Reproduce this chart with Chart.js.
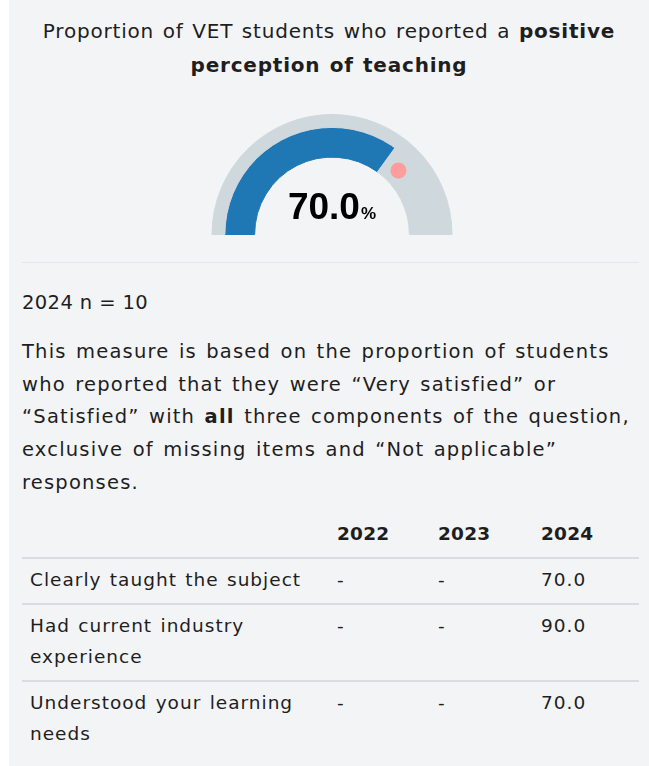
<!DOCTYPE html>
<html lang="en">
<head>
  <meta charset="UTF-8" />
  <title>Positive perception of teaching</title>
  <script src="https://cdn.jsdelivr.net/npm/chart.js"></script>
  <style>
    body {
      margin: 0;
      background: #ffffff;
      font-family: 'DejaVu Sans', sans-serif;
      color: #1e1e1e;
    }
    .panel {
      position: absolute;
      left: 9px; top: 0; right: 0; min-height: 766px;
      background: #f3f4f6;
      padding: 0 10px 0 13px;
    }
    h2 {
      margin: 0;
      padding-top: 14px;
      font-size: 20px;
      line-height: 34px;
      font-weight: 400;
      text-align: center;
      letter-spacing: 0.8px;
      word-spacing: 1.5px;
      margin-left: -13px;
      margin-right: -10px;
    }
    h2 b { font-weight: 700; }
    .gauge {
      position: relative;
      width: 242px; height: 121px;
      margin: 32px auto 0;
      left: 1px;
    }
    .gauge canvas { display: block; }
    hr {
      border: 0;
      border-top: 1px solid #e4e6e9;
      margin: 27px 0 0;
    }
    p {
      margin: 0;
      font-size: 19.5px;
      line-height: 32.75px;
      letter-spacing: 1.2px;
      word-spacing: 2px;
    }
    .n { margin-top: 24px; letter-spacing: 0.4px; word-spacing: 0; }
    .desc { margin-top: 16px; }
    table {
      border-collapse: collapse;
      width: 617px;
      margin-top: 12px;
      font-size: 18.5px;
      line-height: 31px;
      letter-spacing: 1px;
      word-spacing: 1.5px;
    }
    th, td {
      text-align: left;
      vertical-align: top;
      padding: 5px 8px 8px;
    }
    th { font-weight: 700; padding-top: 6px; letter-spacing: 0.2px; }
    thead tr { border-bottom: 2px solid #dadcdf; }
    tbody tr { border-bottom: 2px solid #dadcdf; }
    tbody tr:last-child { border-bottom: 0; }
  </style>
</head>
<body>
  <div class="panel">
    <h2>Proportion of VET students who reported a <b>positive<br>perception of teaching</b></h2>
    <div class="gauge"><canvas id="gauge" width="242" height="121"></canvas></div>
    <hr />
    <p class="n">2024 n = 10</p>
    <p class="desc">This measure is based on the proportion of students<br>who reported that they were “Very satisfied” or<br>“Satisfied” with <b>all</b> three components of the question,<br>exclusive of missing items and “Not applicable”<br>responses.</p>
    <table id="tbl">
      <colgroup><col style="width:307px"><col style="width:101px"><col style="width:103px"><col style="width:106px"></colgroup>
      <thead></thead>
      <tbody></tbody>
    </table>
  </div>

  <script>
    // gauge data
    const gaugeValue = 70.0;
    const benchmark = 75.6;
    const gaugeMax = 100;

    // table data
    const years = ['2022', '2023', '2024'];
    const components = ['Clearly taught the subject', 'Had current industry experience', 'Understood your learning needs'];
    const values2022 = [null, null, null];
    const values2023 = [null, null, null];
    const values2024 = [70.0, 90.0, 70.0];

    // build table
    const thead = document.querySelector('#tbl thead');
    thead.innerHTML = '<tr><th></th>' + years.map(y => `<th>${y}</th>`).join('') + '</tr>';
    const tbody = document.querySelector('#tbl tbody');
    const fmt = v => v === null ? '-' : v.toFixed(1);
    components.forEach((c, i) => {
      const tr = document.createElement('tr');
      tr.innerHTML = `<td>${c}</td><td>${fmt(values2022[i])}</td><td>${fmt(values2023[i])}</td><td>${fmt(values2024[i])}</td>`;
      tbody.appendChild(tr);
    });

    const grey = '#cfd8dc';
    const blue = '#1f77b4';

    // centre label + benchmark dot
    const gaugeExtras = {
      id: 'gaugeExtras',
      afterDatasetsDraw(chart) {
        const arc = chart.getDatasetMeta(1).data[0];
        const { x, y, innerRadius, outerRadius } = arc.getProps(['x', 'y', 'innerRadius', 'outerRadius'], true);
        const ctx = chart.ctx;

        // benchmark marker
        const ang = -Math.PI + Math.PI * benchmark / gaugeMax;
        const r = (innerRadius + outerRadius) / 2;
        ctx.save();
        ctx.fillStyle = '#ff9c9c';
        ctx.beginPath();
        ctx.arc(x + r * Math.cos(ang), y + r * Math.sin(ang), 8, 0, Math.PI * 2);
        ctx.fill();

        // value text
        const big = gaugeValue.toFixed(1);
        ctx.fillStyle = '#000';
        ctx.textBaseline = 'alphabetic';
        ctx.font = 'bold 37px "Liberation Sans", Arial, sans-serif';
        const w1 = ctx.measureText(big).width;
        ctx.font = 'bold 17px "Liberation Sans", Arial, sans-serif';
        const w2 = ctx.measureText('%').width;
        const start = x - (w1 + w2 + 1) / 2;
        ctx.font = 'bold 37px "Liberation Sans", Arial, sans-serif';
        ctx.fillText(big, start, y - 16);
        ctx.font = 'bold 17px "Liberation Sans", Arial, sans-serif';
        ctx.fillText('%', start + w1 + 1, y - 16);
        ctx.restore();
      }
    };

    new Chart(document.getElementById('gauge'), {
      type: 'doughnut',
      data: {
        datasets: [
          {
            data: [gaugeMax],
            backgroundColor: [grey],
            borderColor: [grey],
            borderWidth: 1,
            weight: 13
          },
          {
            data: [gaugeValue, gaugeMax - gaugeValue],
            backgroundColor: [blue, grey],
            borderColor: [blue, grey],
            borderWidth: 1,
            weight: 30
          }
        ]
      },
      options: {
        responsive: false,
        animation: false,
        rotation: -90,
        circumference: 180,
        cutout: '64.46%',
        layout: { padding: 0 },
        plugins: {
          legend: { display: false },
          tooltip: { enabled: false }
        },
        events: []
      },
      plugins: [gaugeExtras]
    });
  </script>
</body>
</html>
